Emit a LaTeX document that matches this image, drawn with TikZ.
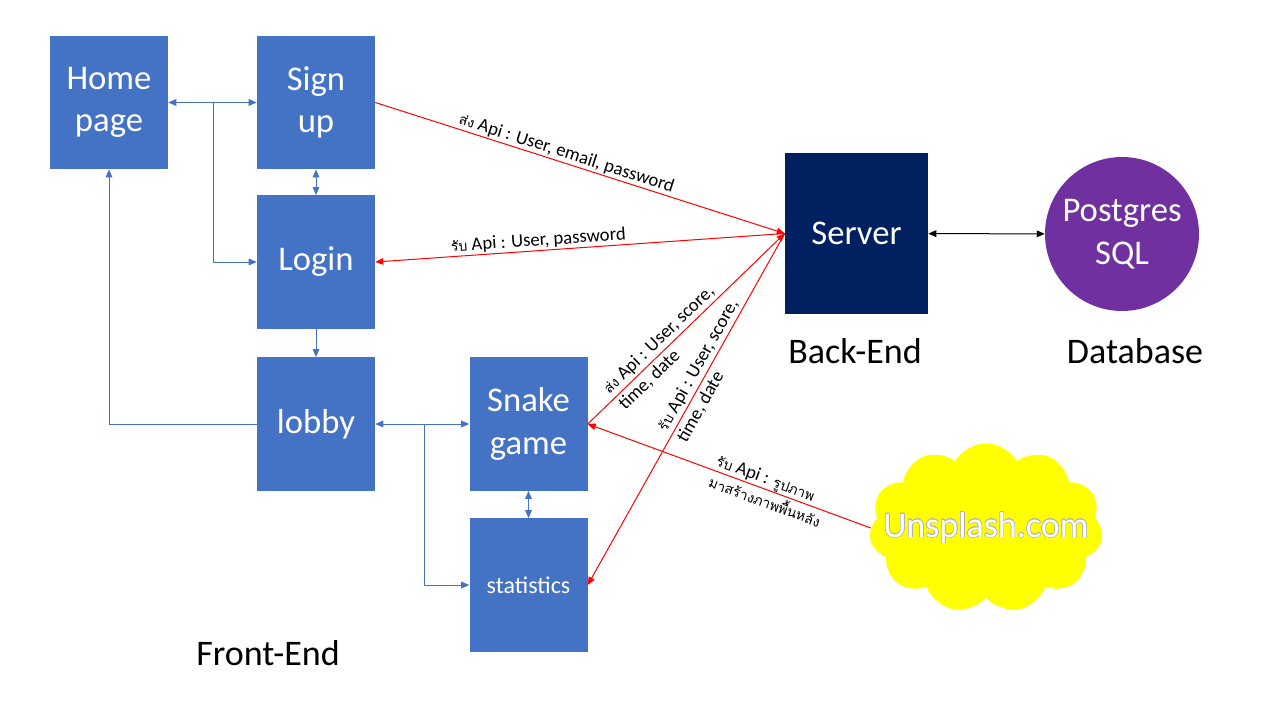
\documentclass[tikz,border=0pt]{standalone}
\usepackage{fontspec}
\setmainfont{Carlito}
\newfontfamily\thaifont[Script=Thai]{Loma}
\usepackage{contour}
\contourlength{0.35pt}
\contournumber{24}
\usetikzlibrary{arrows.meta,shapes.symbols,positioning}
\definecolor{boxblue}{HTML}{4472C4}
\definecolor{servernavy}{HTML}{002060}
\definecolor{dbpurple}{HTML}{7030A0}
\definecolor{cloudyellow}{HTML}{FFFF00}
\newcommand\bxw{88.5pt}
\newcommand\bxh{100pt}
\newcommand{\thtxt}[1]{{\thaifont\fontsize{10.5}{14}\selectfont #1}}

\begin{document}
\begin{tikzpicture}
          [x=0.75pt,y=-0.75pt,
          >={Stealth[inset=0pt,length=6pt,width=5pt]},
          page/.style={rectangle,fill=boxblue,text=white,inner sep=0pt,
            minimum width=\bxw,minimum height=\bxh,align=center,
            font=\fontsize{26}{32}\selectfont},
          server/.style={rectangle,fill=servernavy,text=white,inner sep=0pt,
            minimum width=107.25pt,minimum height=120.75pt,
            font=\fontsize{26}{32}\selectfont},
          database/.style={circle,fill=dbpurple,text=white,inner sep=0pt,
            minimum size=115.5pt,align=center,font=\fontsize{26}{32}\selectfont},
          extern/.style={cloud,cloud puffs=11,cloud puff arc=120,aspect=1.4,
            fill=cloudyellow,inner sep=0pt,minimum width=175pt,minimum height=127pt},
          tier/.style={text=black,font=\fontsize{27}{30}\selectfont},
          link/.style={boxblue,line width=0.75pt},
          api/.style={->,red,line width=0.75pt},
          apilabel/.style={sloped,align=left,inner sep=1pt,text=black,
            font=\fontsize{14}{17}\selectfont}
          ]
          \useasboundingbox (0,0) rectangle (1280,720);
          \begin{scope}
            \node[page] (home) at (109,102.5) {Home\\page};
            \node[page] (signup) at (316,102.5) {Sign\\up};
            \node[page] (login) at (316,262) {Login};
            \node[page] (lobby) at (316,424) {lobby};
            \node[page] (snake) at (528.5,424) {Snake\\game};
            \node[page,font=\fontsize{18}{22}\selectfont] (stats) at (528.5,585) {statistics};

            \coordinate (homejoin) at (213,102.5);
            \coordinate (lobbyjoin) at (424,424);

            \draw[<->,link] (home) -- (signup);
            \draw[->,link] (homejoin) |- (login);
            \draw[<->,link] (signup) -- (login);
            \draw[->,link] (login) -- (lobby);
            \draw[->,link] (lobby.west) -| (home.south);
            \draw[<->,link] (lobby) -- (snake);
            \draw[->,link] (lobbyjoin) |- (stats);
            \draw[<->,link] (snake) -- (stats);

            \node[tier] (frontend) at (268,653) {Front-End};
          \end{scope}

          % Back-End and Database
          \node[server] (server) at (856.5,233.5) {Server};
          \node[database] (pg) at (1122,234) {Postgres\\SQL};
          \node[tier] (backend) at (855,351) {Back-End};
          \node[tier] (dbname) at (1135,351) {Database};
          \draw[<->,line width=0.75pt] (server) -- (pg);

          \node[extern] (cloud) at (986,528) {};
          \node[text=white,font=\fontsize{27}{30}\selectfont] (unsplash) at (cloud.center)
            {\contour{gray!60}{Unsplash.com}};

          \draw[api] (signup.east) -- node[apilabel,above,pos=0.46]
            {\thtxt{ส่ง} Api : User, email, password} (server.west);
          \draw[api,<-] (login.east) -- node[apilabel,above,pos=0.4]
            {\thtxt{รับ} Api : User, password} (server.west);
          \draw[api] (snake.east) -- node[apilabel,pos=0.4]
            {\thtxt{ส่ง} Api : User, score,\\time, date} (server.west);
          \draw[api,<-] (stats.east) -- node[apilabel,pos=0.61]
            {\thtxt{รับ} Api : User, score,\\time, date} (server.west);
          \draw[api,<-] (snake.east) -- node[apilabel,pos=0.64]
            {\thtxt{รับ} Api : \thtxt{รูปภาพ}\\\thtxt{มาสร้างภาพพื้นหลัง}} (cloud.west);
        \end{tikzpicture}
\end{document}
